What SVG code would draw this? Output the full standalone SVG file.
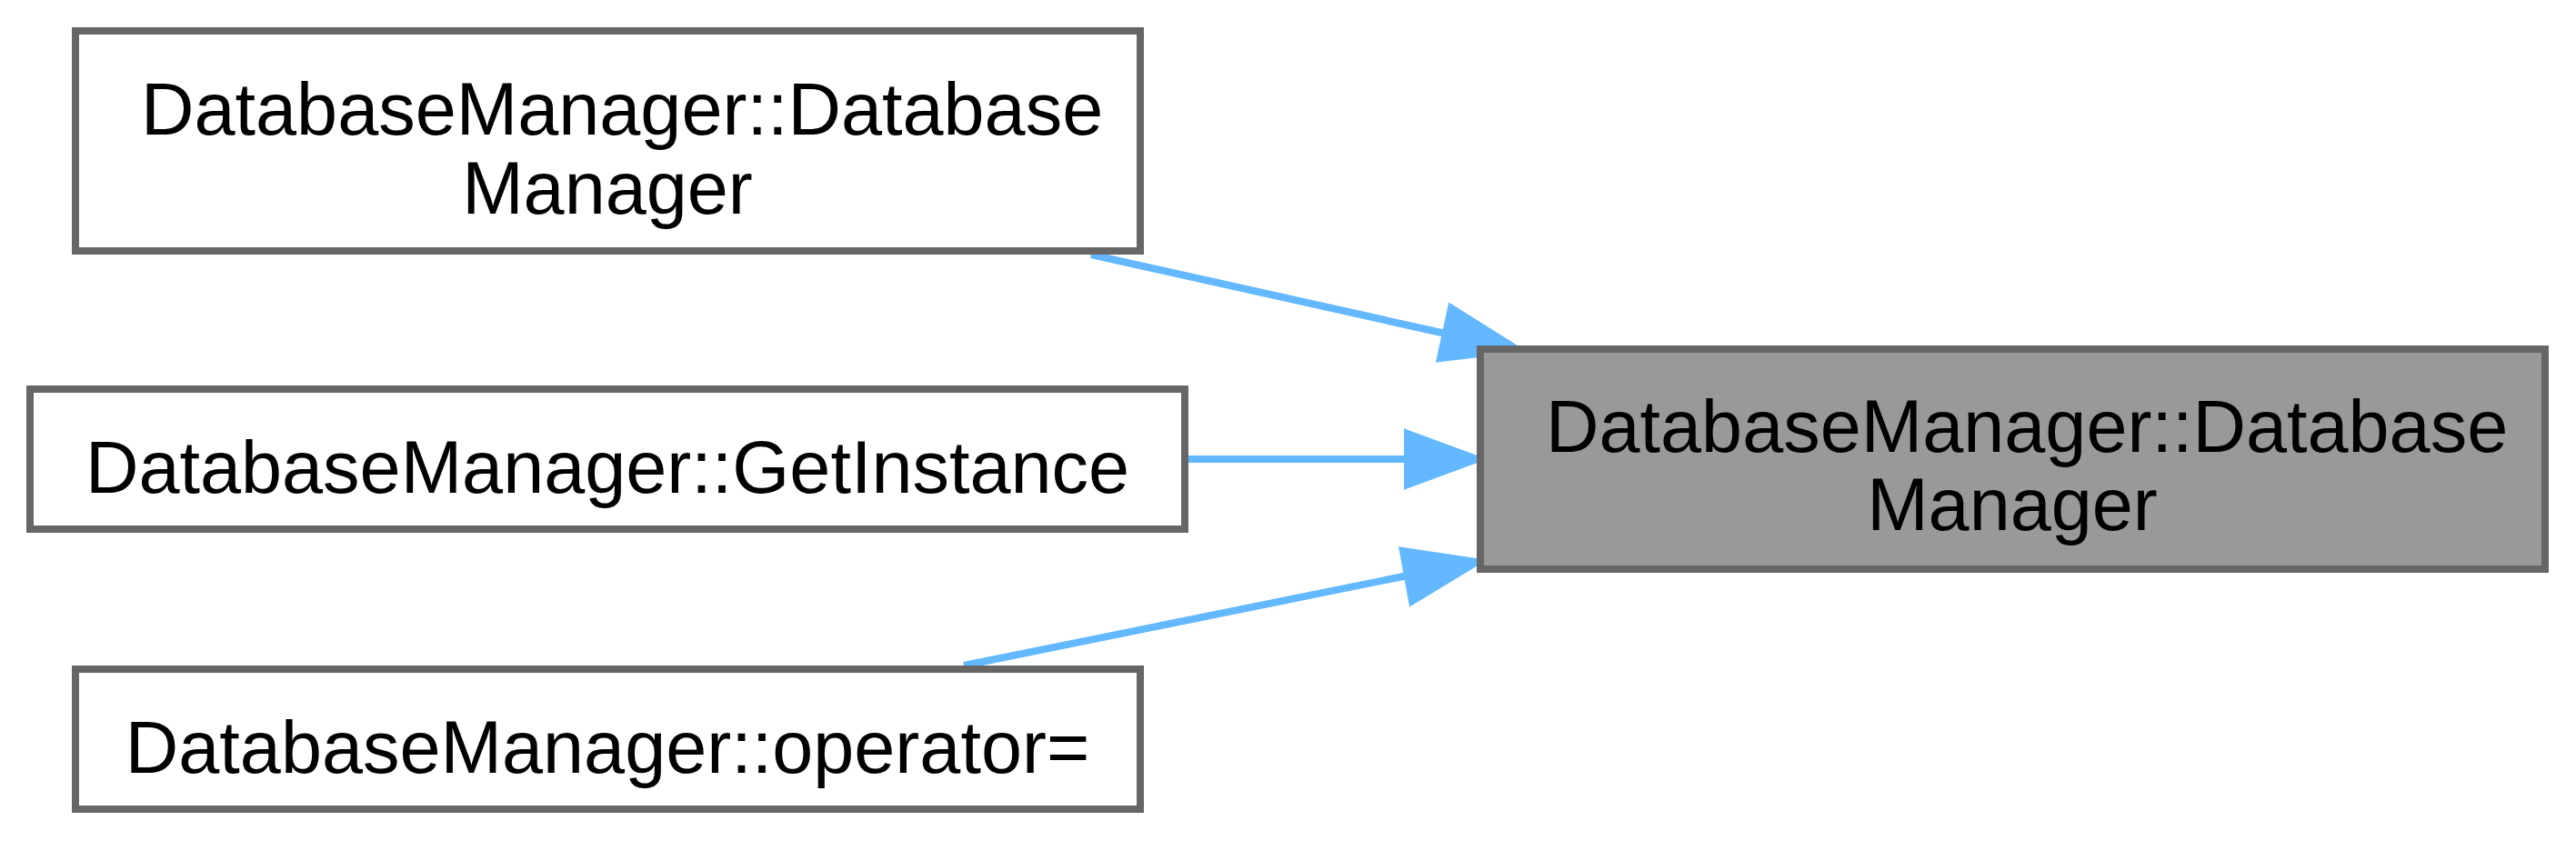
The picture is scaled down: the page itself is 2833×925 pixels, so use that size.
<svg xmlns="http://www.w3.org/2000/svg" width="2833" height="925" viewBox="0 0 2833 925">
<style>
.node rect{stroke:#666666;stroke-width:8}
.plain rect{fill:#ffffff}
.main rect{fill:#999999}
text{font-family:"Liberation Sans",Arial,Helvetica,sans-serif;font-size:81px;fill:#000000}
.edge line{stroke:#63b8ff;stroke-width:8}
.edge polygon{fill:#63b8ff;stroke:#63b8ff;stroke-width:8;stroke-linejoin:miter}
</style>
<rect x="0" y="0" width="2833" height="925" fill="#ffffff"/>
<g id="edges">
  <g class="edge" id="edge1">
    <line x1="1200" y1="280" x2="1590" y2="367"/>
    <polygon points="1584,394 1668,384 1596,339"/>
  </g>
  <g class="edge" id="edge2">
    <line x1="1307" y1="505" x2="1548" y2="505"/>
    <polygon points="1548,477 1624,505 1548,533"/>
  </g>
  <g class="edge" id="edge3">
    <line x1="1060" y1="732" x2="1548" y2="633"/>
    <polygon points="1553,661 1624,618 1543,606"/>
  </g>
</g>
<g id="node_main" class="node main">
  <rect x="1628" y="384" width="1171" height="242"/>
  <text x="1700" y="497">DatabaseManager::Database</text>
  <text x="2213" y="583" text-anchor="middle">Manager</text>
</g>
<g id="node_ctor" class="node plain">
  <rect x="83" y="34" width="1171" height="242"/>
  <text x="155" y="148">DatabaseManager::Database</text>
  <text x="668" y="235" text-anchor="middle">Manager</text>
</g>
<g id="node_getinstance" class="node plain">
  <rect x="33" y="428" width="1270" height="154"/>
  <text x="668" y="542" text-anchor="middle">DatabaseManager::GetInstance</text>
</g>
<g id="node_operator" class="node plain">
  <rect x="83" y="736" width="1171" height="154"/>
  <text x="668" y="850" text-anchor="middle">DatabaseManager::operator=</text>
</g>
</svg>
